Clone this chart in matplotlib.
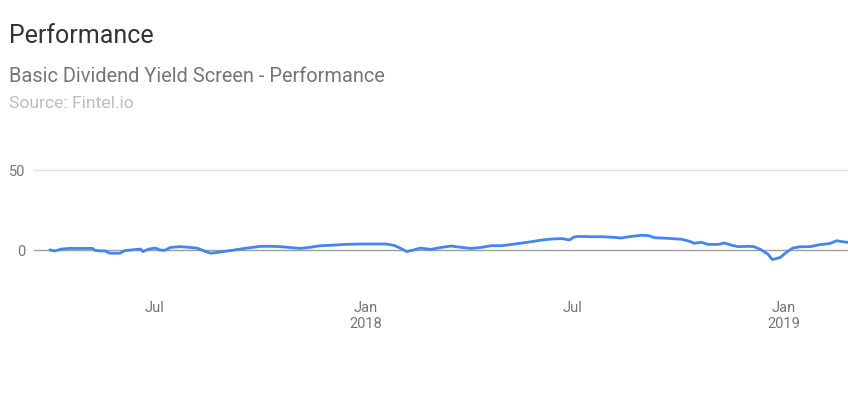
# plot.py
# Performance line chart for the Basic Dividend Yield Screen

# ------------- load modules --------------
import pandas as pd  # for dates
import matplotlib.pyplot as plt  # for the line chart

# ------------- data --------------
dates = [
    "2017-04-01", "2017-04-05", "2017-04-11", "2017-04-18", "2017-05-08", "2017-05-10",
    "2017-05-15", "2017-05-19", "2017-05-23", "2017-06-01", "2017-06-05", "2017-06-10",
    "2017-06-19", "2017-06-21", "2017-06-26", "2017-07-02", "2017-07-06", "2017-07-10",
    "2017-07-15", "2017-07-24", "2017-08-01", "2017-08-07", "2017-08-10", "2017-08-14",
    "2017-08-19", "2017-08-28", "2017-09-05", "2017-09-14", "2017-09-23", "2017-10-02",
    "2017-10-10", "2017-10-19", "2017-10-28", "2017-11-05", "2017-11-14", "2017-11-23",
    "2017-12-01", "2017-12-14", "2017-12-27", "2018-01-10", "2018-01-19", "2018-01-26",
    "2018-02-01", "2018-02-06", "2018-02-12", "2018-02-18", "2018-02-27", "2018-03-08",
    "2018-03-17", "2018-03-26", "2018-04-03", "2018-04-12", "2018-04-21", "2018-04-30",
    "2018-05-09", "2018-05-18", "2018-05-26", "2018-06-04", "2018-06-13", "2018-06-22",
    "2018-06-28", "2018-07-02", "2018-07-06", "2018-07-17", "2018-07-26", "2018-08-06",
    "2018-08-12", "2018-08-21", "2018-08-30", "2018-09-05", "2018-09-10", "2018-09-22",
    "2018-10-04", "2018-10-10", "2018-10-15", "2018-10-21", "2018-10-27", "2018-11-05",
    "2018-11-10", "2018-11-16", "2018-11-22", "2018-12-01", "2018-12-06", "2018-12-12",
    "2018-12-18", "2018-12-22", "2018-12-29", "2019-01-04", "2019-01-09", "2019-01-15",
    "2019-01-24", "2019-02-01", "2019-02-10", "2019-02-16", "2019-02-21", "2019-02-26",
]
performance = [
    0.0, -0.6, 0.6, 1.0, 1.0, -0.2,
    -0.6, -0.6, -2.0, -2.0, -0.4, 0.0,
    0.6, -1.0, 0.6, 1.2, 0.0, -0.2,
    1.6, 2.1, 1.6, 1.2, 0.4, -0.8,
    -2.0, -1.2, -0.4, 0.6, 1.5, 2.3,
    2.3, 2.1, 1.5, 1.0, 1.7, 2.7,
    2.9, 3.5, 3.75, 3.75, 3.75, 2.9,
    1.0, -1.0, 0.0, 1.2, 0.4, 1.6,
    2.5, 1.6, 1.0, 1.6, 2.7, 2.7,
    3.5, 4.4, 5.2, 6.25, 6.9, 7.1,
    6.25, 8.1, 8.5, 8.3, 8.3, 7.9,
    7.5, 8.5, 9.2, 9.0, 7.7, 7.3,
    6.7, 5.6, 4.2, 4.8, 3.5, 3.5,
    4.4, 3.1, 2.1, 2.3, 2.1, 0.2,
    -2.5, -6.0, -4.6, -1.0, 1.25, 2.0,
    2.1, 3.3, 4.0, 5.8, 5.2, 4.8,
]
tick_dates = ["2017-07-01", "2018-01-01", "2018-07-01", "2019-01-01"]
tick_labels = ["Jul", "Jan\n2018", "Jul", "Jan\n2019"]
y_ticks = [0, 50]

# ------------- figure --------------
plt.rcParams['font.family'] = ['Roboto', 'DejaVu Sans']
fig = plt.figure(figsize=(8.48, 3.97), dpi=100, facecolor='white')

# titles as figure text (Google chart style header)
fig.text(9/848, 1 - 36/397, "Performance", fontsize=18, color='#333333', va='center', ha='left')
fig.text(9/848, 1 - 77/397, "Basic Dividend Yield Screen - Performance", fontsize=14.4,
         color='#757575', va='center', ha='left')
fig.text(9/848, 1 - 104/397, "Source: Fintel.io", fontsize=12.6, color='#bdbdbd', va='center', ha='left')

# plot area: from x=34px to the right edge, y=140px to 290px
ax = fig.add_axes([34/848, 107/397, 1 - 34/848, 150/397])
x = pd.to_datetime(dates)
ax.plot(x, performance, color='#4285F4', lw=2, zorder=3)

# gridline at 50 and baseline at 0
ax.axhline(50, color='#e0e0e0', lw=1, zorder=1)
ax.axhline(0, color='#9e9e9e', lw=1, zorder=2)

ax.set_xlim(pd.Timestamp("2017-03-18"), pd.Timestamp("2019-02-26"))
ax.set_ylim(-25, 68.75)
ax.set_xticks(pd.to_datetime(tick_dates))
ax.set_xticklabels(tick_labels)
ax.set_yticks(y_ticks)
ax.set_yticklabels([str(v) for v in y_ticks])
ax.tick_params(axis='both', length=0, labelsize=10.5, colors='#757575')
ax.tick_params(axis='y', pad=6)
ax.tick_params(axis='x', pad=8)
for s in ax.spines.values():  # no frame, like the reference
    s.set_visible(False)

fig.savefig("out.png", dpi=100, facecolor='white')
